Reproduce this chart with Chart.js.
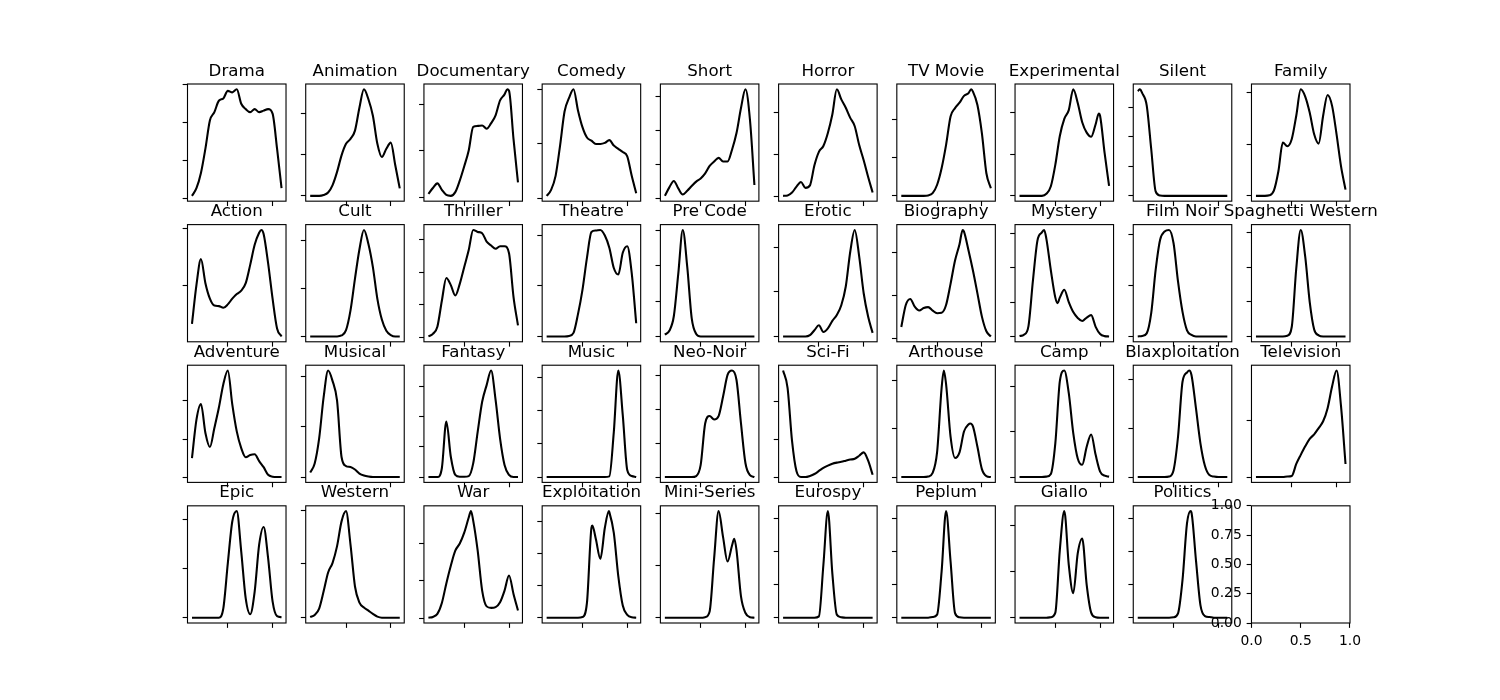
<!DOCTYPE html>
<html><head><meta charset="utf-8">
<script src="https://cdn.jsdelivr.net/npm/chart.js@4/dist/chart.umd.min.js"></script>
<style>
html,body{margin:0;padding:0;background:#fff;}
#fig{position:relative;width:1500px;height:700px;overflow:hidden;background:#fff;}
#fig canvas{position:absolute;}
</style></head><body><div id="fig"></div>
<script>
// ---- data: release-year density (per mille per year) on a common year grid ----
const years = [1910,1915,1920,1925,1930,1935,1940,1945,1950,1955,1960,1965,1970,1975,1980,1985,1990,1995,2000,2005,2010];
const xTickYears = [1950, 2000];

const drama = [0.4,1.4,3.4,6.6,10.3,11.4,12.9,13.2,14.2,14.0,14.4,12.5,11.8,11.4,11.8,11.4,11.6,11.8,11.2,6.6,1.4];
const animation = [0,0,0,0.2,0.8,2.6,5.8,9.8,12.6,13.8,15.8,21.4,25.8,23.4,19.4,12.6,9.4,11.4,12.9,7.4,1.8];
const documentary = [0.7,2.0,3.0,1.6,0.5,0.3,1.1,3.6,6.7,10.1,15.2,15.4,15.5,14.8,16.0,17.7,20.9,22.2,23.0,12.6,3.2];
const comedy = [0.4,1.5,4.1,9.7,16.0,18.5,20.1,16.2,13.1,11.2,10.6,10.0,10.0,10.2,10.7,9.7,9.1,8.5,7.7,4.1,0.9];
const short = [0.8,3.3,5.2,3.0,1.2,2.3,3.7,5.0,5.9,7.4,9.6,10.9,12.0,10.9,10.9,14.4,19.3,26.7,32.2,23.3,4.0];
const horror = [0.2,0.3,1.0,2.4,3.5,2.1,2.7,7.5,10.7,12.1,15.2,19.6,25.6,23.2,21.2,18.8,16.8,12.3,8.7,4.7,1.0];
const tvMovie = [0,0,0,0,0,0,0.1,0.7,2.9,7.2,13.3,20.7,22.9,24.3,26.1,26.8,27.2,23.7,16.3,5.9,2.0];
const experimental = [0,0,0,0,0,0,0.5,2.3,7.5,14.4,18.5,20.6,25.6,22.3,17.7,15.2,14.2,17.2,19.2,10.3,2.4];
const silent = [70.8,69.4,61.2,32.0,3.0,0.2,0,0,0,0,0,0,0,0,0,0,0,0,0,0,0];
const family = [0,0,0,0.1,1.0,4.7,10.3,9.6,11.0,15.5,20.6,19.2,16.1,11.9,10.1,15.5,19.5,17.4,11.9,5.7,1.2];

const action = [3.3,10.1,14.6,10.4,7.7,6.5,6.4,6.1,6.7,7.7,8.5,9.1,10.4,13.6,17.1,19.2,19.0,13.9,7.7,2.5,1.1];
const cult = [0,0,0,0,0,0,0,0.4,2.6,10.8,24.0,36.2,44.2,38.4,28.8,15.6,7.0,2.4,0.6,0,0];
const thriller = [0.1,0.5,1.6,5.6,9.1,8.0,6.4,8.2,10.8,13.4,16.5,16.2,16.0,14.7,14.1,13.6,14.0,14.0,12.9,6.2,1.8];
const theatre = [0,0,0,0,0,0.1,0.7,4.4,9.2,15.5,20.6,20.9,21.0,19.9,17.5,13.5,12.2,16.5,17.8,12.5,2.6];
const preCode = [1.3,4.0,14.3,44.5,75.5,49.3,12.8,1.8,0,0,0,0,0,0,0,0,0,0,0,0,0];
const erotic = [0,0,0,0,0,0,0.6,2.8,5.0,2.0,3.6,7.0,9.6,14.0,22.4,38.0,47.8,35.8,19.4,8.8,1.6];
const biography = [2.7,7.8,9.2,7.4,6.5,7.1,7.3,6.5,5.9,6.0,7.8,12.7,18.1,21.9,24.8,20.5,15.8,10.5,5.1,1.7,0.5];
const mystery = [0.1,0.5,3.0,16.3,27.9,30.3,28.4,19.2,11.3,11.3,13.6,10.0,7.1,5.4,4.5,5.5,6.2,2.8,0.7,0.1,0];
const filmNoir = [0,0.2,1.2,9.0,26.0,37.8,41.0,41.6,36.4,21.4,9.6,2.4,0.6,0,0,0,0,0,0,0,0];
const spaghettiWestern = [0,0,0,0,0,0,0,0.5,7.0,49.0,76.8,57.5,25.0,5.0,0.8,0,0,0,0,0,0];

const adventure = [5.0,15.1,19.2,11.6,7.9,12.9,18.2,24.4,28.0,19.1,12.0,7.6,5.2,5.8,6.0,4.2,2.6,0.6,0.1,0,0];
const musical = [1.8,5.4,15.4,31.8,42.4,38.2,30.4,8.0,4.4,4.0,3.0,1.4,0.6,0.2,0,0,0,0,0,0,0];
const fantasy = [0,0,0,2.9,18.3,6.7,0.7,0.1,0.1,0.3,4.5,14.9,24.8,30.3,35.1,25.4,12.7,4.0,0.7,0,0];
const music = [0,0,0,0,0,0,0,0,0,0,0,0,0,0,0.5,34.0,80.5,46.8,5.3,0.8,0];
const neoNoir = [0,0,0,0,0,0,0,0.3,3.6,15.9,18.1,17.1,18.1,23.9,30.3,31.6,28.8,15.9,4.1,0.6,0];
const sciFi = [56.2,47.1,19.2,3.2,0.2,0.2,0.8,1.8,3.4,5.0,6.2,7.2,7.8,8.2,8.8,9.4,9.8,11.4,13.2,8.8,1.4];
const arthouse = [0,0,0,0,0,0,0.2,1.7,10.4,36.7,38.4,16.7,7.9,10.2,18.8,21.7,20.9,12.5,3.3,0.4,0];
const camp = [0,0,0,0,0,0,0.2,1.4,15.0,42.2,47.0,37.0,19.4,8.2,5.4,13.4,18.8,9.8,2.4,0.6,0.2];
const blaxploitation = [0,0,0,0,0,0,0,0.2,2.8,16.6,39.0,42.8,41.8,28.2,13.8,4.6,0.8,0.2,0,0,0];
const television = [0,0,0,0,0,0,0,0.2,0.4,4.6,7.8,10.8,13.4,15.0,17.2,19.6,24.2,31.8,37.4,24.8,4.6];

const epic = [0,0,0,0,0,0,0,3.8,22.0,39.0,43.2,26.8,7.8,1.4,10.6,29.6,36.8,24.2,6.6,0.6,0.2];
const western = [0.2,1.0,3.4,9.8,16.8,20.4,26.6,35.8,39.6,27.2,11.6,5.6,3.8,2.6,1.4,0.4,0,0,0,0,0];
const war = [0.2,0.4,1.2,4.1,9.3,14.0,18.0,19.9,22.8,26.8,26.0,18.0,7.4,3.2,2.8,3.0,4.3,7.4,11.4,6.5,2.1];
const exploitation = [0,0,0,0,0,0,0,0,0.2,4.6,28.1,24.5,18.4,28.1,33.0,26.5,13.0,3.8,0.9,0.1,0];
const miniSeries = [0,0,0,0,0,0,0,0,0,0.2,2.4,22.8,41.0,31.0,21.6,27.8,26.0,8.2,1.8,0.2,0];
const eurospy = [0,0,0,0,0,0,0,0,1.0,39.8,80.5,33.5,2.3,0.3,0,0,0,0,0,0,0];
const peplum = [0,0,0,0,0,0,0,0.5,2.3,34.8,80.5,42.5,3.5,0.3,0,0,0,0,0,0,0];
const giallo = [0,0,0,0,0,0,0,0.2,2.2,29.2,46.0,22.8,10.6,27.8,34.2,14.2,2.2,0.2,0,0,0];
const politics = [0,0,0,0,0,0,0,0,0.2,2.6,22.8,57.0,63.6,34.8,7.6,1.0,0.4,0,0,0,0];

// peaks and dips read between grid years: [year, value]
const peakPoints = {
  "Documentary": [[1998, 23.3]],
  "TV Movie": [[1988, 27.8]],
  "Experimental": [[1998.5, 19.8]],
  "Silent": [[1912.5, 72.0]],
  "Action": [[1987.5, 19.7]],
  "Biography": [[1978.5, 25.2]],
  "Mystery": [[1937.5, 31.0], [1952.5, 9.7]],
  "Arthouse": [[1957.5, 44.0], [1987, 22.1]],
  "Blaxploitation": [[1967.5, 43.6]],
  "War": [[1957.5, 28.5]],
  "Exploitation": [[1961, 28.8], [1979.5, 33.3]],
  "Mini-Series": [[1987.5, 30.4]],
  "Politics": [[1969, 64.4]]
};

const genres = ["Drama","Animation","Documentary","Comedy","Short","Horror","TV Movie","Experimental","Silent","Family",
  "Action","Cult","Thriller","Theatre","Pre Code","Erotic","Biography","Mystery","Film Noir","Spaghetti Western",
  "Adventure","Musical","Fantasy","Music","Neo-Noir","Sci-Fi","Arthouse","Camp","Blaxploitation","Television",
  "Epic","Western","War","Exploitation","Mini-Series","Eurospy","Peplum","Giallo","Politics"];
const seriesList = [drama,animation,documentary,comedy,short,horror,tvMovie,experimental,silent,family,
  action,cult,thriller,theatre,preCode,erotic,biography,mystery,filmNoir,spaghettiWestern,
  adventure,musical,fantasy,music,neoNoir,sciFi,arthouse,camp,blaxploitation,television,
  epic,western,war,exploitation,miniSeries,eurospy,peplum,giallo,politics];
// y tick spacing (per mille) of each panel
const yTickStep = [5,10,10,10,10,10,10,10,20,10,
  10,20,5,10,25,20,10,10,20,25,
  10,20,10,25,10,20,20,20,20,20,
  20,20,10,10,20,25,25,20,20];
// empty last panel axis ticks
const emptyXTicks = [0, 0.5, 1.0];
const emptyYTicks = [0, 0.25, 0.5, 0.75, 1.0];

// ---- layout ----
const FIG = {left: 187.5, top: 84, w: 98.517, h: 117.174, dx: 118.22, dy: 140.609};
const CAN = {l: 60, t: 30, w: 200, h: 180};
const fig = document.getElementById('fig');
Chart.defaults.font.family = 'DejaVu Sans';
Chart.defaults.color = '#000';

const framePlugin = {
  id: 'frame',
  afterDraw(chart, args, opts) {
    const {ctx, chartArea: a} = chart;
    ctx.save();
    ctx.strokeStyle = '#000';
    ctx.lineWidth = 1.11;
    ctx.strokeRect(a.left, a.top, a.right - a.left, a.bottom - a.top);
    if (opts && opts.title) {
      ctx.fillStyle = '#000';
      ctx.font = '16.67px "DejaVu Sans"';
      ctx.textAlign = 'center';
      ctx.textBaseline = 'alphabetic';
      ctx.fillText(opts.title, (a.left + a.right) / 2, a.top - 8.33);
    }
    ctx.restore();
  }
};

function makeCanvas(r, c) {
  const L = FIG.left + c * FIG.dx, T = FIG.top + r * FIG.dy;
  const cx = Math.floor(L) - CAN.l, cy = Math.floor(T) - CAN.t;
  const cv = document.createElement('canvas');
  cv.width = CAN.w; cv.height = CAN.h;
  cv.style.left = cx + 'px'; cv.style.top = cy + 'px';
  cv.style.width = CAN.w + 'px'; cv.style.height = CAN.h + 'px';
  fig.appendChild(cv);
  const padding = {left: L - cx, top: T - cy, right: CAN.w - (L - cx) - FIG.w, bottom: CAN.h - (T - cy) - FIG.h};
  return {cv, padding};
}

const gridOpts = {display: true, drawOnChartArea: false, drawTicks: true, tickLength: 4.86, tickWidth: 1.11, tickColor: '#000'};

genres.forEach((name, i) => {
  const r = Math.floor(i / 10), c = i % 10;
  const {cv, padding} = makeCanvas(r, c);
  const vals = seriesList[i];
  let pts = years.map((x, k) => ({x, y: vals[k]}));
  (peakPoints[name] || []).forEach(p => pts.push({x: p[0], y: p[1]}));
  pts.sort((a, b) => a.x - b.x);
  const ys = pts.map(p => p.y);
  const dmin = Math.min(...ys), dmax = Math.max(...ys);
  const lo = dmin - 0.05 * (dmax - dmin), hi = dmax + 0.05 * (dmax - dmin);
  const step = yTickStep[i];
  new Chart(cv, {
    type: 'line',
    data: {datasets: [{data: pts, borderColor: '#000', borderWidth: 2.08, pointRadius: 0,
      cubicInterpolationMode: 'monotone', fill: false}]},
    options: {
      responsive: false, animation: false, devicePixelRatio: 1, events: [],
      layout: {autoPadding: false, padding},
      plugins: {legend: {display: false}, tooltip: {enabled: false}, frame: {title: name}},
      scales: {
        x: {type: 'linear', min: 1905, max: 2015,
          afterBuildTicks: s => { s.ticks = xTickYears.map(v => ({value: v})); },
          afterFit: s => { s.height = 0; },
          ticks: {display: false}, grid: gridOpts, border: {display: false}},
        y: {type: 'linear', min: lo, max: hi,
          afterBuildTicks: s => {
            const t = [];
            for (let k = Math.ceil(lo / step - 1e-9); k * step <= hi + 1e-9; k++) t.push({value: k * step});
            s.ticks = t;
          },
          afterFit: s => { s.width = 0; },
          ticks: {display: false}, grid: gridOpts, border: {display: false}}
      }
    },
    plugins: [framePlugin]
  });
});

// empty 40th panel (with tick labels); axis boxes get real size so labels are not clipped
(function () {
  const {cv, padding} = makeCanvas(3, 9);
  const YW = 52, XH = 30;
  padding.left -= YW;
  padding.bottom -= XH;
  const tickFont = {family: 'DejaVu Sans', size: 13.89};
  new Chart(cv, {
    type: 'line',
    data: {datasets: []},
    options: {
      responsive: false, animation: false, devicePixelRatio: 1, events: [],
      layout: {autoPadding: false, padding},
      plugins: {legend: {display: false}, tooltip: {enabled: false}, frame: {title: ''}},
      scales: {
        x: {type: 'linear', min: 0, max: 1,
          afterBuildTicks: s => { s.ticks = emptyXTicks.map(v => ({value: v})); },
          afterFit: s => { s.height = XH; },
          ticks: {display: true, font: tickFont, color: '#000', padding: 4.86, autoSkip: false, maxRotation: 0, minRotation: 0,
            callback: v => Number(v).toFixed(1)},
          grid: gridOpts, border: {display: false}},
        y: {type: 'linear', min: 0, max: 1,
          afterBuildTicks: s => { s.ticks = emptyYTicks.map(v => ({value: v})); },
          afterFit: s => { s.width = YW; },
          ticks: {display: true, font: tickFont, color: '#000', padding: 4.86, autoSkip: false,
            callback: v => Number(v).toFixed(2)},
          grid: gridOpts, border: {display: false}}
      }
    },
    plugins: [framePlugin]
  });
})();
</script>
</body></html>
